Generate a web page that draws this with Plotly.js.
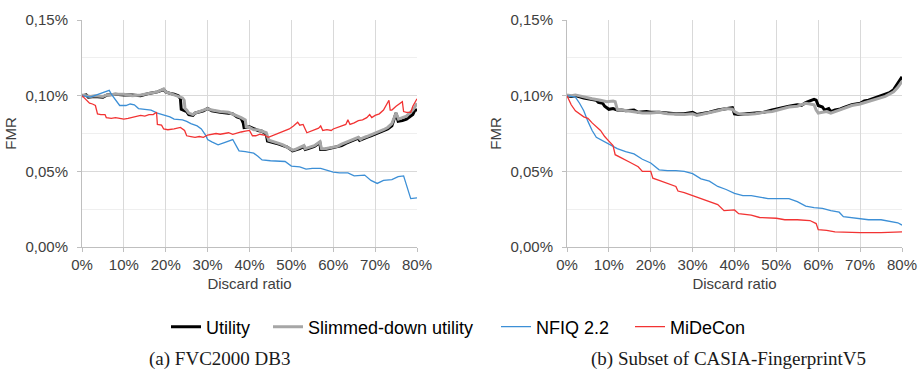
<!DOCTYPE html>
<html>
<head>
<meta charset="utf-8">
<script src="https://cdn.plot.ly/plotly-3.0.1.min.js"></script>
<style>html,body{margin:0;padding:0;background:#fff;}#chart{width:919px;height:379px;}</style>
</head>
<body>
<div id="chart"></div>
<script>
// ---- DATA (discard ratio in %, FMR in %) ----
const seriesNames = ["Utility", "Slimmed-down utility", "NFIQ 2.2", "MiDeCon"];
const panelCaptions = ["(a) FVC2000 DB3", "(b) Subset of CASIA-FingerprintV5"];
const xTitle = "Discard ratio";
const yTitle = "FMR";

// Panel (a) FVC2000 DB3
const aUtilityX = [0,1,1.5,3,5,6,8,10,12,14,16,18,19.5,20,21,22,23,23.5,23.7,24.5,25,25.5,26.5,27,29,30,31,33,35,36,37,38,38.5,38.7,40,41,42,43,44,44.3,46,47,48,49,50.3,51,52,53,53.3,54,55.5,56.8,57,58,60,61,62,63,64,65,66,66.3,67,68,69,70,71,72,73,74,75,75.5,76.5,77.5,78,78.5,79,79.5,80];
const aUtilityY = [0.100,0.1005,0.099,0.0995,0.099,0.1005,0.101,0.1005,0.1005,0.100,0.1015,0.1025,0.104,0.1025,0.1015,0.101,0.100,0.098,0.091,0.090,0.0895,0.0875,0.087,0.0885,0.090,0.0915,0.090,0.089,0.0885,0.088,0.086,0.085,0.082,0.079,0.0795,0.078,0.077,0.0765,0.0745,0.070,0.069,0.068,0.067,0.066,0.0635,0.064,0.065,0.0665,0.0645,0.065,0.0665,0.069,0.0645,0.0645,0.0655,0.066,0.067,0.0685,0.0695,0.0705,0.072,0.0705,0.0715,0.0725,0.0735,0.0745,0.0755,0.077,0.078,0.080,0.0885,0.083,0.0835,0.0845,0.0855,0.086,0.0875,0.0905,0.0905];
const aSlimX = [0,1,2,3,5,6,8,10,12,14,16,18,19.5,20,21,22,23,24,24.4,24.6,25,25.5,26.5,27,29,30,31,33,35,36,37,38,39,39.2,40,41,42,43,44,44.6,46,47,48,49,50.3,51,52,53,53.3,54,55.5,56.8,57.2,58,60,61,62,63,64,65,66,66.5,67,68,69,70,71,72,73,74,75,75.6,76.5,77.5,78,78.5,79,79.5,80];
const aSlimY = [0.1005,0.1,0.0995,0.1,0.0995,0.1005,0.101,0.101,0.1,0.1005,0.1015,0.1025,0.1045,0.1025,0.1015,0.1005,0.1,0.0985,0.097,0.0915,0.0905,0.0885,0.0875,0.0885,0.0905,0.0915,0.0905,0.0895,0.089,0.088,0.0865,0.0855,0.084,0.0795,0.079,0.0775,0.0775,0.0765,0.0755,0.0705,0.0695,0.0685,0.0675,0.066,0.064,0.0645,0.0655,0.067,0.065,0.0655,0.067,0.0695,0.065,0.065,0.066,0.0665,0.068,0.069,0.0705,0.0715,0.0725,0.071,0.072,0.073,0.074,0.075,0.0765,0.0775,0.079,0.0815,0.0885,0.0845,0.0855,0.0865,0.088,0.089,0.0905,0.0925,0.095];
const aNfiqX = [0,1,2,3,4.5,6.5,7,8,9,10.5,11.5,12.5,13.5,15,16.5,18,20,21,22,24,25,26,27.5,28.5,29.5,30,31,32.5,34,36,37,37.5,39,41,42,43,45,47,48.5,50,52,53.5,55,57,58.5,60,61.5,63.5,65,66.5,67.5,69,70.5,72,74,75.5,76.8,78.5,80];
const aNfiqY = [0.100,0.0995,0.099,0.100,0.1015,0.1035,0.101,0.097,0.0935,0.0935,0.0945,0.094,0.0915,0.091,0.0905,0.0885,0.087,0.086,0.0845,0.084,0.083,0.0815,0.080,0.078,0.074,0.071,0.0695,0.0675,0.069,0.071,0.066,0.0635,0.063,0.062,0.060,0.0575,0.057,0.0565,0.0565,0.0535,0.053,0.0515,0.052,0.052,0.0505,0.0495,0.049,0.049,0.047,0.0475,0.0475,0.044,0.042,0.044,0.0445,0.0465,0.047,0.032,0.0325];
const aMideconX = [0,0.7,1.2,1.8,2.5,3.2,3.7,4.5,5.5,5.8,7,8,9,10,11,12,13,14,15,16,17,17.8,18,19,19.5,20.5,22,23.5,24.5,25,26,27,28,29,30,31,32,33,34,35,36,37,38,39,40,40.7,41.5,42.5,43.5,44.5,45.5,46.5,48,49.5,50.5,51.5,52,52.8,53.7,54.5,55.5,56.5,57,57.5,58.5,59.5,60,61,62,63,63.5,64,65,66,67,68,68.7,69.2,70,71,72,73.3,73.6,74,75,76.5,76.8,77.5,78.5,79,80];
const aMideconY = [0.100,0.098,0.097,0.095,0.0945,0.0935,0.088,0.0875,0.0875,0.0855,0.085,0.0855,0.085,0.0845,0.085,0.0855,0.086,0.087,0.0865,0.0875,0.0875,0.089,0.081,0.0805,0.078,0.0775,0.078,0.079,0.077,0.0735,0.073,0.0725,0.073,0.0725,0.074,0.0745,0.075,0.0745,0.075,0.0755,0.0745,0.0755,0.076,0.0765,0.077,0.0735,0.0735,0.0745,0.074,0.0725,0.0735,0.0745,0.0765,0.078,0.080,0.0825,0.0805,0.081,0.0755,0.0765,0.0775,0.0785,0.080,0.077,0.0775,0.077,0.078,0.079,0.080,0.081,0.084,0.081,0.082,0.0835,0.084,0.0855,0.0875,0.0855,0.087,0.088,0.0905,0.097,0.0905,0.0905,0.093,0.096,0.0895,0.089,0.089,0.093,0.098];

// Panel (b) Subset of CASIA-FingerprintV5
const bUtilityX = [0,1,2,3,4,5,6,7,7.5,8.5,9,10,11,12,13,14,16,17,19,20,22,24,26,28,29,30,31,32,34,36,38,39.5,40,41,43,45,47,49,51,53,54,55,56,57,58,59,59.5,60,61,61.5,62.5,63,64,65,66,67,68,70,71,72,73,74,75,76,77,78,79,80];
const bUtilityY = [0.100,0.0995,0.100,0.099,0.0985,0.098,0.0975,0.097,0.0955,0.095,0.093,0.091,0.0915,0.0905,0.0905,0.090,0.0905,0.089,0.0895,0.089,0.089,0.0885,0.088,0.088,0.0885,0.089,0.0875,0.088,0.089,0.0905,0.0915,0.092,0.088,0.0875,0.088,0.0885,0.089,0.0905,0.0915,0.093,0.0935,0.094,0.0935,0.0955,0.0965,0.0975,0.097,0.0935,0.0925,0.0905,0.0915,0.0895,0.0905,0.091,0.092,0.093,0.094,0.095,0.0965,0.097,0.098,0.0985,0.100,0.1005,0.102,0.104,0.108,0.1125];
const bSlimX = [0,1,2,4,6,8,9.5,11,11.5,12,13,15,17,18,20,22,24,26,28,30,31,32,34,36,38,39.5,40,41,43,45,47,49,51,53,55,57,58,59,59.5,60,61,62,63,64,66,68,70,72,74,76,78,79,80];
const bSlimY = [0.1005,0.100,0.1005,0.099,0.098,0.097,0.096,0.0965,0.096,0.091,0.0905,0.0895,0.089,0.0885,0.0885,0.089,0.088,0.0875,0.0875,0.088,0.087,0.0875,0.0885,0.090,0.0915,0.091,0.0895,0.088,0.0875,0.088,0.089,0.0895,0.091,0.0925,0.093,0.095,0.0945,0.094,0.0905,0.0885,0.089,0.0895,0.0885,0.0895,0.091,0.0935,0.0945,0.096,0.0975,0.0995,0.1025,0.1055,0.1095];
const bNfiqX = [0,1,2,3,4,5,6,7,8,10,12,14,16,18,20,22,24,26,28,30,32,34,36,38,40,42,44,46,48,50,53,55,57,59,61,63,65,66,68,70,72,75,77,79,80];
const bNfiqY = [0.100,0.0995,0.099,0.095,0.090,0.083,0.077,0.0725,0.071,0.0675,0.065,0.063,0.0615,0.058,0.0555,0.051,0.0505,0.0505,0.050,0.0485,0.045,0.0435,0.040,0.038,0.0355,0.034,0.034,0.033,0.032,0.032,0.032,0.030,0.027,0.026,0.0255,0.024,0.023,0.020,0.0195,0.019,0.018,0.018,0.017,0.016,0.0145];
const bMideconX = [0,1,2,3,4,5,6,8,9,10,11,11.5,13,15,17,18,20,20.5,22,24,26,26.5,28,30,32,34,36,37.5,40,41,44,46,50,52,55,58,59.5,60,62,64,68,70,75,78,80];
const bMideconY = [0.100,0.094,0.090,0.088,0.086,0.085,0.082,0.077,0.073,0.070,0.067,0.061,0.059,0.056,0.053,0.050,0.050,0.0455,0.044,0.042,0.040,0.037,0.036,0.034,0.032,0.030,0.028,0.024,0.0245,0.022,0.021,0.0195,0.019,0.018,0.018,0.0175,0.0155,0.0115,0.011,0.010,0.0095,0.0095,0.0095,0.0095,0.010];

const xTickVals = [0,10,20,30,40,50,60,70,80];
const yTickVals = [0,0.05,0.10,0.15];

// ---- STYLES ----
const styles = [
  {color:'#000000', width:3},
  {color:'#a6a6a6', width:3},
  {color:'#3c8fd6', width:1.3},
  {color:'#f23333', width:1.3}
];
const W = 919, H = 379;
// legend line start positions (px) for each series
const legendLeftPx = [168, 270, 498, 632];

function mk(xs, ys, idx, xa, ya, show) {
  return {
    x: xs, y: ys, type:'scatter', mode:'lines',
    name: seriesNames[idx], showlegend: show,
    legend: idx === 0 ? 'legend' : 'legend' + (idx + 1),
    xaxis: xa, yaxis: ya, hoverinfo:'skip',
    line: {color: styles[idx].color, width: styles[idx].width}
  };
}

const traces = [
  mk(aUtilityX, aUtilityY, 0, 'x', 'y', true),
  mk(aSlimX, aSlimY, 1, 'x', 'y', true),
  mk(aNfiqX, aNfiqY, 2, 'x', 'y', true),
  mk(aMideconX, aMideconY, 3, 'x', 'y', true),
  mk(bUtilityX, bUtilityY, 0, 'x2', 'y2', false),
  mk(bSlimX, bSlimY, 1, 'x2', 'y2', false),
  mk(bNfiqX, bNfiqY, 2, 'x2', 'y2', false),
  mk(bMideconX, bMideconY, 3, 'x2', 'y2', false)
];

const sans = 'Liberation Sans, Arial, sans-serif';
const tickFont = {family:sans, size:15, color:'#404040'};
function xAxis(dom, anchor) {
  return {
    domain: dom, anchor: anchor, range:[0,80],
    tickmode:'array', tickvals: xTickVals, ticktext: xTickVals.map(v => v + '%'),
    showgrid:true, gridcolor:'#d9d9d9', gridwidth:1,
    showline:true, linecolor:'#bfbfbf', linewidth:1,
    ticks:'outside', ticklen:4, tickcolor:'#bfbfbf',
    zeroline:false, tickfont: tickFont,
    title:{text:xTitle, font:{family:sans, size:15, color:'#404040'}, standoff:6},
    automargin:false, fixedrange:true
  };
}
function yAxis(anchor) {
  return {
    domain:[(H-247)/H, (H-20)/H], anchor: anchor, range:[0,0.15],
    tickmode:'array', tickvals: yTickVals, ticktext: yTickVals.map(v => v.toFixed(2).replace('.', ',') + '%'),
    showgrid:true, gridcolor:'#d9d9d9', gridwidth:1,
    minor:{tickmode:'array', tickvals:[0.025,0.075,0.125], showgrid:true, gridcolor:'#efefef', gridwidth:1, ticks:''},
    showline:true, linecolor:'#bfbfbf', linewidth:1,
    ticks:'outside', ticklen:4, tickcolor:'#bfbfbf', ticklabelstandoff:6,
    zeroline:false, tickfont: tickFont,
    title:{text:yTitle, font:{family:sans, size:15, color:'#404040'}, standoff:5},
    automargin:false, fixedrange:true
  };
}

function legendAt(px) {
  return {orientation:'h', x:(px - 2)/W, xanchor:'left', y:(H-327)/H, yanchor:'middle',
          font:{family:sans, size:18, color:'#000000'},
          itemwidth:30, borderwidth:0, bgcolor:'rgba(0,0,0,0)'};
}

const layout = {
  width: W, height: H,
  margin:{l:0, r:0, t:0, b:0},
  paper_bgcolor:'#ffffff', plot_bgcolor:'#ffffff',
  showlegend:true,
  legend: legendAt(legendLeftPx[0]),
  legend2: legendAt(legendLeftPx[1]),
  legend3: legendAt(legendLeftPx[2]),
  legend4: legendAt(legendLeftPx[3]),
  xaxis: xAxis([82/W, 417/W], 'y'),
  yaxis: yAxis('x'),
  xaxis2: xAxis([567/W, 902/W], 'y2'),
  yaxis2: yAxis('x2'),
  annotations: [
    {text: panelCaptions[0], xref:'paper', yref:'paper', x:219/W, y:(H-359)/H, xanchor:'center', yanchor:'middle', showarrow:false,
     font:{family:'Liberation Serif, serif', size:19, color:'#1a1a1a'}},
    {text: panelCaptions[1], xref:'paper', yref:'paper', x:728/W, y:(H-359)/H, xanchor:'center', yanchor:'middle', showarrow:false,
     font:{family:'Liberation Serif, serif', size:19, color:'#1a1a1a'}}
  ]
};

Plotly.newPlot('chart', traces, layout, {displayModeBar:false, staticPlot:true});
</script>
</body>
</html>
